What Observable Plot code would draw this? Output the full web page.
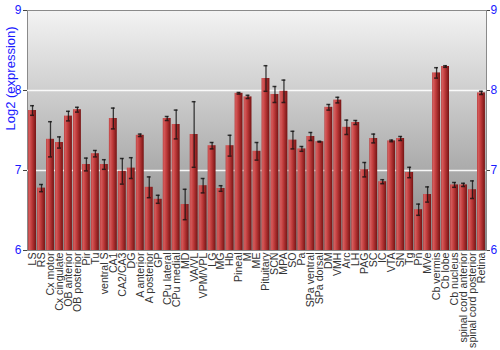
<!DOCTYPE html>
<html>
<head>
<meta charset="utf-8">
<script src="https://cdn.jsdelivr.net/npm/d3@7"></script>
<script src="https://cdn.jsdelivr.net/npm/@observablehq/plot@0.6"></script>
<style>
  html, body { margin: 0; padding: 0; background: white; }
</style>
</head>
<body>
<svg width="0" height="0" style="position:absolute">
  <defs>
    <linearGradient id="bgGrad" x1="0" y1="0" x2="0" y2="1">
      <stop offset="0" stop-color="#f3f3f3"/>
      <stop offset="1" stop-color="#868686"/>
    </linearGradient>
    <linearGradient id="barGrad" x1="0" y1="0" x2="1" y2="0">
      <stop offset="0" stop-color="#b83a3a"/>
      <stop offset="0.15" stop-color="#d45c5c"/>
      <stop offset="0.45" stop-color="#c13c3c"/>
      <stop offset="1" stop-color="#761313"/>
    </linearGradient>
  </defs>
</svg>
<div id="chart"></div>
<script>
const regions = ["LS","RS","Cx motor","Cx cingulate","OB anterior","OB posterior","Pir","Tu","ventral S","CA1","CA2/CA3","DG","A anterior","A posterior","GP","CPu lateral","CPu medial","MD","VA/VL","VPM/VPL","LG","MG","Hb","Pineal","M","ME","Pituitary","SCN","MPA","SO","Pa","SPa ventral","SPa dorsal","DM","VMH","Arc","LH","PAG","SC","IC","VTA","SN","Tg","Pn","MVe","Cb vermis","Cb lobe","Cb nucleus","spinal cord anterior","spinal cord posterior","Retina"];
const values = [7.75,6.78,7.39,7.35,7.68,7.76,7.075,7.21,7.075,7.65,6.99,7.03,7.44,6.79,6.64,7.65,7.575,6.575,7.45,6.81,7.31,6.775,7.31,7.965,7.92,7.24,8.15,7.95,7.99,7.38,7.27,7.425,7.36,7.79,7.88,7.54,7.60,7.01,7.40,6.86,7.37,7.40,6.975,6.51,6.70,8.22,8.30,6.82,6.82,6.76,7.97];
const errors = [0.06,0.045,0.22,0.07,0.06,0.03,0.08,0.04,0.06,0.13,0.16,0.13,0.015,0.13,0.05,0.025,0.18,0.19,0.41,0.09,0.04,0.035,0.13,0.01,0.02,0.11,0.16,0.10,0.14,0.11,0.03,0.05,0.005,0.035,0.035,0.09,0.025,0.09,0.055,0.025,0.01,0.025,0.065,0.07,0.095,0.065,0.01,0.03,0.02,0.11,0.02];
const yTicks = [6, 7, 8, 9];
const gridValues = [7, 8];
const yLabel = "Log2 (expression)";

const data = regions.map((r, i) => ({region: r, value: values[i], lo: values[i] - errors[i], hi: values[i] + errors[i]}));

const chart = Plot.plot({
  width: 500,
  height: 350,
  marginLeft: 27,
  marginRight: 14,
  marginTop: 10,
  marginBottom: 100,
  style: {fontFamily: "'Liberation Sans', Arial, sans-serif", background: "white"},
  x: {domain: regions, padding: 0.12, label: null},
  y: {domain: [6, 9], label: null},
  marks: [
    Plot.frame({fill: "url(#bgGrad)", stroke: "#8a8a8a"}),
    Plot.ruleY(gridValues, {stroke: "white", strokeWidth: 1.5, strokeOpacity: 0.9}),
    Plot.barY(data, {x: "region", y1: 6, y2: "value", fill: "url(#barGrad)"}),
    Plot.ruleX(data, {x: "region", y1: "lo", y2: "hi", stroke: "#111", strokeWidth: 1.3, strokeOpacity: 0.8}),
    Plot.tickY(data, {x: "region", y: "hi", stroke: "#111", strokeWidth: 1.5, strokeOpacity: 0.8, insetLeft: 2, insetRight: 2}),
    Plot.tickY(data, {x: "region", y: "lo", stroke: "#111", strokeWidth: 1.5, strokeOpacity: 0.8, insetLeft: 2, insetRight: 2}),
    Plot.axisX({tickRotate: -90, tickSize: 0, tickPadding: 2, fontSize: 10.6, fill: "#333", label: null}),
    Plot.axisY({anchor: "left", ticks: yTicks, tickFormat: d => String(d), tickSize: 4, tickPadding: 2, stroke: "#444", fill: "#1a1aff", fontSize: 12, label: null}),
    Plot.axisY({anchor: "right", ticks: yTicks, tickFormat: d => String(d), tickSize: 3, tickPadding: 1, stroke: "#444", fill: "#1a1aff", fontSize: 12, label: null}),
    Plot.text([yLabel], {frameAnchor: "left", rotate: -90, dx: -17, fill: "#1a1aff", fontSize: 13})
  ]
});
document.getElementById("chart").appendChild(chart);
</script>
</body>
</html>
